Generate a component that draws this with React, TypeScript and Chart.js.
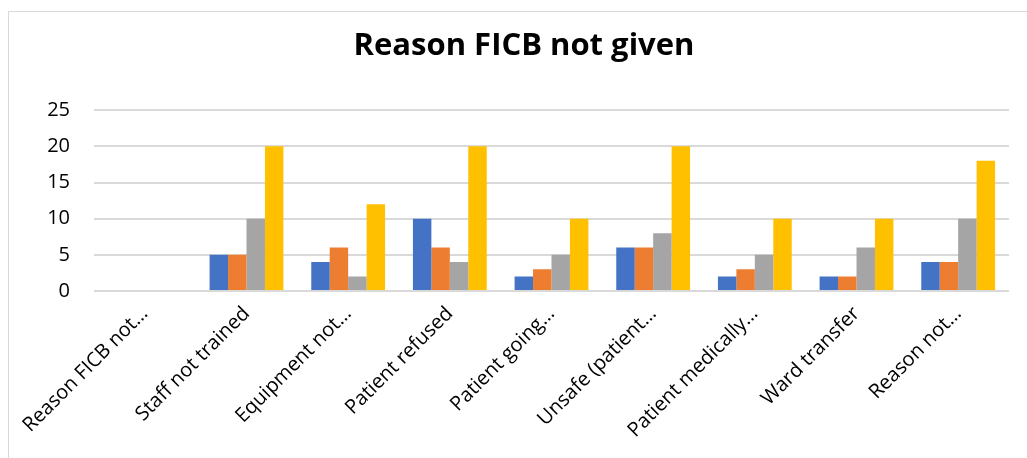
import React, { useEffect, useRef } from "react";
import { Chart, registerables } from "chart.js";

Chart.register(...registerables);

// Categories (long names are shortened the same way the axis shows them)
const categories = [
  "Reason FICB not…",
  "Staff not trained",
  "Equipment not…",
  "Patient refused",
  "Patient going…",
  "Unsafe (patient…",
  "Patient medically…",
  "Ward transfer",
  "Reason not…",
];

// Four series per reason
const series1 = [0, 5, 4, 10, 2, 6, 2, 2, 4];
const series2 = [0, 5, 6, 6, 3, 6, 3, 2, 4];
const series3 = [0, 10, 2, 4, 5, 8, 5, 6, 10];
const series4 = [0, 20, 12, 20, 10, 20, 10, 10, 18];

const seriesNames = ["Series 1", "Series 2", "Series 3", "Series 4"];
const seriesColors = ["#4472C4", "#ED7D31", "#A5A5A5", "#FFC000"];

const yTicks = [0, 5, 10, 15, 20, 25];

const FONT = "'Open Sans', Lato, 'Liberation Sans', sans-serif";

export default function App() {
  const canvasRef = useRef<HTMLCanvasElement | null>(null);

  useEffect(() => {
    const canvas = canvasRef.current;
    if (!canvas) return;
    const values = [series1, series2, series3, series4];
    const chart = new Chart(canvas, {
      type: "bar",
      data: {
        labels: categories,
        datasets: values.map((v, i) => ({
          label: seriesNames[i],
          data: v,
          backgroundColor: seriesColors[i],
          borderWidth: 0,
          categoryPercentage: 0.726,
          barPercentage: 1,
        })),
      },
      options: {
        animation: false,
        responsive: false,
        maintainAspectRatio: false,
        layout: { padding: { left: 30, right: 30, top: 0, bottom: 0 } },
        plugins: {
          legend: { display: false },
          tooltip: { enabled: false },
          title: {
            display: true,
            text: "Reason FICB not given",
            color: "#000",
            font: { family: FONT, size: 31, weight: "bold" },
            padding: { top: 16, bottom: 45 },
          },
        },
        scales: {
          x: {
            grid: { display: false },
            border: { display: false },
            ticks: {
              color: "#000",
              font: { family: FONT, size: 20 },
              maxRotation: 45,
              minRotation: 45,
              autoSkip: false,
              padding: 3,
            },
            afterFit: (scale: any) => {
              scale.height = 171;
            },
          },
          y: {
            min: 0,
            max: 25,
            afterBuildTicks: (scale: any) => {
              scale.ticks = yTicks.map((v) => ({ value: v }));
            },
            grid: {
              color: "#d9d9d9",
              lineWidth: 2,
              drawTicks: false,
            },
            border: { display: false },
            ticks: {
              color: "#000",
              font: { family: FONT, size: 20 },
              padding: 24,
            },
            afterFit: (scale: any) => {
              scale.width = 55;
            },
          },
        },
      },
    });
    return () => chart.destroy();
  }, []);

  return (
    <div
      style={{
        position: "fixed",
        inset: 0,
        overflow: "hidden",
        background: "#fff",
      }}
    >
      <div
        style={{
          position: "absolute",
          left: 8,
          top: 11,
          width: 1030,
          height: 460,
          border: "1px solid #d9d9d9",
          background: "#fff",
        }}
      >
        <canvas
          ref={canvasRef}
          width={1030}
          height={450}
          style={{ display: "block", width: 1030, height: 450 }}
        />
      </div>
    </div>
  );
}
